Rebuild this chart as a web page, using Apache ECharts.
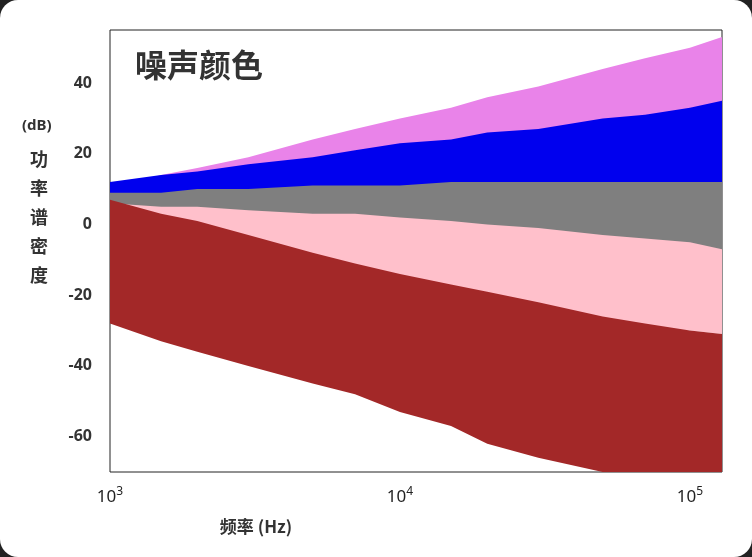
<!DOCTYPE html>
<html>
<head>
<meta charset="utf-8">
<script src="https://cdn.jsdelivr.net/npm/echarts@6/dist/echarts.min.js"></script>
<style>
  html, body { margin: 0; padding: 0; background: #222; }
  #card { width: 752px; height: 557px; background: #fff; border-radius: 18px; overflow: hidden; }
  #main { width: 752px; height: 557px; }
</style>
</head>
<body>
<div id="card"><div id="main"></div></div>
<script>
// 频率采样点 (Hz)
var freqs = [1000, 1500, 2000, 3000, 5000, 7000, 10000, 15000, 20000, 30000, 50000, 70000, 100000, 129000];
// 各噪声带的上下包络 (dB)
var violetUpper = [10, 14, 16, 19, 24, 27, 30, 33, 36, 39, 44, 47, 50, 53];
var violetLower = [-2, -2, -2, -2, -2, -2, -2, -2, -2, -2, -2, -2, -2, -2];
var blueUpper = [12, 14, 15, 17, 19, 21, 23, 24, 26, 27, 30, 31, 33, 35];
var blueLower = [-2, -2, -2, -2, -2, -2, -2, -2, -2, -2, -2, -2, -2, -2];
var grayUpper = [9, 9, 10, 10, 11, 11, 11, 12, 12, 12, 12, 12, 12, 12];
var grayLower = [-7, -7, -7, -7, -7, -7, -7, -7, -7, -7, -7, -7, -7, -7];
var pinkUpper = [6, 5, 5, 4, 3, 3, 2, 1, 0, -1, -3, -4, -5, -7];
var pinkLower = [-10, -12, -13, -15, -17, -19, -20, -22, -24, -25, -27, -29, -30, -31];
var redUpper = [7, 3, 1, -3, -8, -11, -14, -17, -19, -22, -26, -28, -30, -31];
var redLower = [-28, -33, -36, -40, -45, -48, -53, -57, -62, -66, -70, -70, -70, -70];
var yTicks = [-60, -40, -20, 0, 20, 40];

var bands = [
    { color: '#e983e9', upper: violetUpper, lower: violetLower },
    { color: '#0000ee', upper: blueUpper, lower: blueLower },
    { color: '#7f7f7f', upper: grayUpper, lower: grayLower },
    { color: '#ffc0cb', upper: pinkUpper, lower: pinkLower },
    { color: '#a32828', upper: redUpper, lower: redLower }
];

var myChart = echarts.init(document.getElementById('main'));

function bandSeries(band) {
    return {
        type: 'custom',
        data: [0],
        clip: true,
        renderItem: function (params, api) {
            var pts = [];
            freqs.forEach(function (f, i) { pts.push(api.coord([f, band.upper[i]])); });
            for (var i = freqs.length - 1; i >= 0; i--) pts.push(api.coord([freqs[i], band.lower[i]]));
            return { type: 'polygon', shape: { points: pts }, style: { fill: band.color } };
        }
    };
}

var supMap = { 1000: '3', 10000: '4', 100000: '5' };

option = {
    animation: false,
    grid: { left: 110, right: 30, top: 30, bottom: 85, show: true, borderColor: '#222', borderWidth: 1 },
    title: {
        text: '噪声颜色', left: 130, top: 44,
        textStyle: { fontSize: 32, fontWeight: 'bold', color: '#333', fontFamily: 'Noto Sans CJK SC' }
    },
    xAxis: {
        type: 'log', min: 1000, max: 129000, logBase: 10,
        axisLine: { show: false },
        axisTick: { show: false },
        minorTick: { show: false },
        splitLine: { show: false },
        axisLabel: {
            margin: 14,
            formatter: function (v) { return supMap[v] ? '{b|10}{s|' + supMap[v] + '}' : ''; },
            rich: {
                b: { fontSize: 17, color: '#222', fontFamily: 'Noto Sans' },
                s: { fontSize: 12, color: '#222', verticalAlign: 'top', padding: [0, 0, 10, 0], fontFamily: 'Noto Sans' }
            }
        },
        name: '频率 (Hz)', nameLocation: 'middle', nameGap: 46,
        nameTextStyle: { fontSize: 17, fontWeight: 'bold', color: '#333', fontFamily: 'Noto Sans CJK SC', padding: [0, 320, 0, 0] }
    },
    yAxis: {
        type: 'value', min: -70, max: 55,
        axisLine: { show: false },
        axisTick: { show: false },
        splitLine: { show: false },
        axisLabel: {
            fontSize: 16, fontWeight: 'bold', color: '#333', margin: 18, fontFamily: 'Noto Sans',
            customValues: yTicks
        }
    },
    graphic: [
        { type: 'text', left: 22, top: 118, style: { text: '(dB)', fontSize: 15, fontWeight: 'bold', fill: '#333', fontFamily: 'Noto Sans' } },
        { type: 'text', left: 30, top: 145, style: { text: '功\n率\n谱\n密\n度', fontSize: 18, fontWeight: 'bold', lineHeight: 29, fill: '#333', fontFamily: 'Noto Sans CJK SC' } }
    ],
    series: bands.map(bandSeries)
};
myChart.setOption(option);
</script>
</body>
</html>
